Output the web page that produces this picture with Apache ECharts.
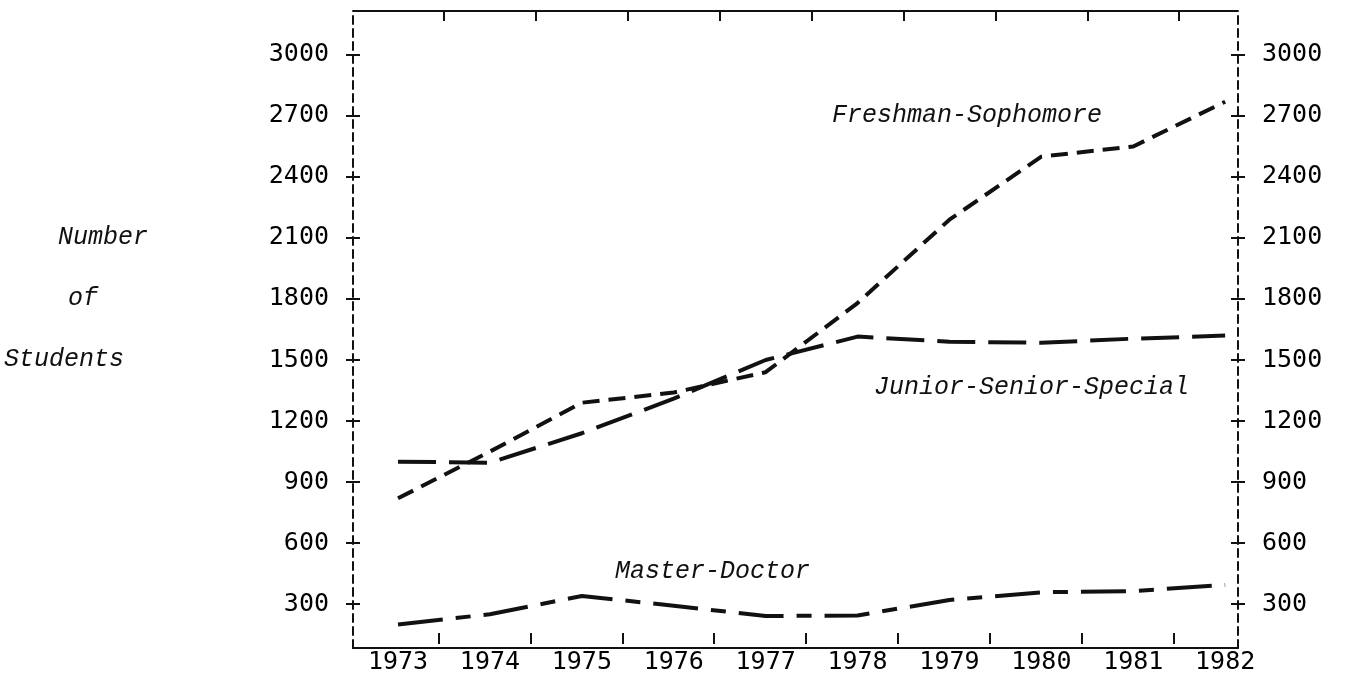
<!DOCTYPE html>
<html>
<head>
<meta charset="utf-8">
<script src="https://cdn.jsdelivr.net/npm/echarts@6/dist/echarts.min.js"></script>
<style>
html,body{margin:0;padding:0;background:#fff;}
#chart{width:1368px;height:678px;}
</style>
</head>
<body>
<div id="chart"></div>
<script>
// ---- data ----
const years = [1973, 1974, 1975, 1976, 1977, 1978, 1979, 1980, 1981, 1982];
const freshmanSophomore = [820, 1050, 1290, 1340, 1440, 1780, 2190, 2500, 2550, 2770];
const juniorSeniorSpecial = [1000, 995, 1140, 1310, 1500, 1615, 1590, 1585, 1605, 1620];
const masterDoctor = [200, 250, 340, 292, 241, 244, 320, 358, 364, 394];
const yTickValues = [300, 600, 900, 1200, 1500, 1800, 2100, 2400, 2700, 3000];
const seriesNames = ['Freshman-Sophomore', 'Junior-Senior-Special', 'Master-Doctor'];
const yTitle = ['Number', 'of', 'Students'];

const X_MIN = 1972.51, X_MAX = 1982.14;
const Y_MIN = 84, Y_MAX = 3216;
const bottomTicks = years.slice(0, -1).map(y => y + 0.44);
const topTicks = years.slice(0, -1).map(y => y + 0.5);

const numFont = { fontFamily: 'DejaVu Sans Mono', fontSize: 25, color: '#000' };
const italFont = 'italic 25px "Liberation Mono"';

const pair = (arr) => years.map((y, i) => [y, arr[i]]);

function yAx(pos, withLabels, inside) {
  return {
    type: 'value', position: pos, min: Y_MIN, max: Y_MAX,
    axisLine: withLabels ? { show: true, lineStyle: { color: '#111', width: 2, type: [8, 5] } } : { show: false },
    axisTick: { show: true, inside: inside, length: 7, customValues: yTickValues, lineStyle: { color: '#111', width: 2 } },
    axisLabel: withLabels ? Object.assign({ show: true, margin: 24, customValues: yTickValues, formatter: v => String(v) }, numFont) : { show: false },
    splitLine: { show: false }
  };
}

const chart = echarts.init(document.getElementById('chart'), null, { renderer: 'canvas' });
chart.setOption({
  backgroundColor: '#fff',
  animation: false,
  grid: { left: 353, right: 130, top: 11, bottom: 30 },
  xAxis: [
    {
      type: 'value', position: 'bottom', min: X_MIN, max: X_MAX,
      axisLine: { show: true, lineStyle: { color: '#111', width: 2 } },
      axisTick: { show: false },
      axisLabel: Object.assign({ show: true, margin: 2, customValues: years, formatter: v => String(Math.round(v)) }, numFont),
      splitLine: { show: false }
    },
    {
      type: 'value', position: 'bottom', offset: -4, min: X_MIN, max: X_MAX,
      axisLine: { show: false },
      axisTick: { show: true, inside: true, length: 11, customValues: bottomTicks, lineStyle: { color: '#111', width: 2 } },
      axisLabel: { show: false },
      splitLine: { show: false }
    },
    {
      type: 'value', position: 'top', min: X_MIN, max: X_MAX,
      axisLine: { show: true, lineStyle: { color: '#111', width: 2 } },
      axisTick: { show: true, inside: true, length: 10, customValues: topTicks, lineStyle: { color: '#111', width: 2 } },
      axisLabel: { show: false },
      splitLine: { show: false }
    }
  ],
  yAxis: [
    yAx('left', true, false),
    yAx('left', false, true),
    yAx('right', true, false),
    yAx('right', false, true)
  ],
  series: [
    {
      name: seriesNames[0], type: 'line', xAxisIndex: 0, yAxisIndex: 0,
      data: pair(freshmanSophomore), showSymbol: false, smooth: false,
      lineStyle: { color: '#111', width: 4, type: [17, 9], cap: 'butt' }
    },
    {
      name: seriesNames[1], type: 'line', xAxisIndex: 0, yAxisIndex: 0,
      data: pair(juniorSeniorSpecial), showSymbol: false,
      lineStyle: { color: '#111', width: 4, type: [38, 13], cap: 'butt' }
    },
    {
      name: seriesNames[2], type: 'line', xAxisIndex: 0, yAxisIndex: 0,
      data: pair(masterDoctor), showSymbol: false,
      lineStyle: { color: '#111', width: 4, type: [45, 13, 15, 13], cap: 'butt' }
    }
  ],
  graphic: [
    { type: 'text', left: 832, top: 103, style: { text: seriesNames[0], font: italFont, fill: '#111' } },
    { type: 'text', left: 874, top: 375, style: { text: seriesNames[1], font: italFont, fill: '#111' } },
    { type: 'text', left: 615, top: 559, style: { text: seriesNames[2], font: italFont, fill: '#111' } },
    { type: 'text', left: 58, top: 225, style: { text: yTitle[0], font: italFont, fill: '#111' } },
    { type: 'text', left: 68, top: 286, style: { text: yTitle[1], font: italFont, fill: '#111' } },
    { type: 'text', left: 4, top: 347, style: { text: yTitle[2], font: italFont, fill: '#111' } }
  ]
});
</script>
</body>
</html>
